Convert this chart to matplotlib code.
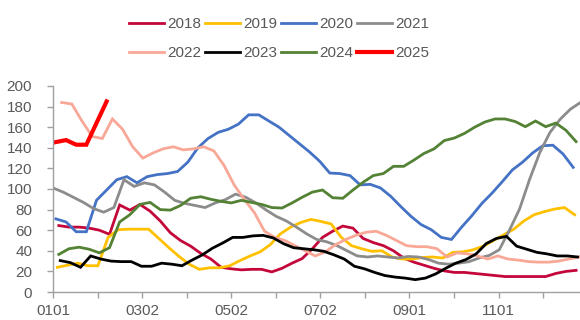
import matplotlib
matplotlib.use("Agg")
import matplotlib.pyplot as plt
import pandas as pd

plt.rcParams["font.family"] = ["Liberation Sans", "DejaVu Sans"]

# Weekly readings (Fridays), one list per year
years = ["2018", "2019", "2020", "2021", "2022", "2023", "2024", "2025"]
first_dates = {
    "2018": "2018-01-05", "2019": "2019-01-04", "2020": "2020-01-03",
    "2021": "2021-01-01", "2022": "2022-01-07", "2023": "2023-01-06",
    "2024": "2024-01-05",
}
dates_2025 = ["2025-01-01", "2025-01-10", "2025-01-17", "2025-01-24", "2025-02-07"]

v2018 = [64.5, 63, 63, 62, 60, 56, 84.5, 79.5, 85, 78.5, 69, 57.5, 50, 44.5, 37.5, 32,
         24, 22.5, 21.5, 22, 22, 19.5, 23, 28, 32.5, 42, 53, 59, 64, 62, 52, 48,
         45, 40, 33, 29, 26, 23, 20.5, 19, 19, 18, 17, 16, 15, 15, 15, 15, 15, 18, 20, 21]
v2019 = [24, 26, 28, 25.5, 25.5, 53, 60.5, 61, 61, 61, 52, 43, 34.5, 27, 22, 23.5,
         23.5, 25.5, 30.5, 35, 39, 46, 56.5, 63, 67.5, 70.5, 68.5, 66, 53, 45, 42, 39.5,
         40, 34, 32, 32, 33.5, 34, 33, 38.5, 39, 41, 44.5, 50, 55.5, 61, 69, 75, 78, 80.5, 82, 75]
v2020 = [71, 68, 58.5, 58.5, 89, 99, 109, 112, 106, 112, 114, 115, 117, 126, 140, 149,
         155, 158, 163, 172, 172, 166, 160, 152, 144, 136, 127, 115.5, 115, 113, 104, 104.5,
         101, 93, 83, 73.5, 65.5, 60.5, 53, 51, 63, 74, 86, 96, 107, 118.5, 126, 135, 142, 142.5, 134, 121]
v2021 = [101, 97, 92, 87, 81, 77.5, 82, 109, 102.5, 106, 104, 97, 89, 86, 84, 82,
         86.5, 89.7, 95, 92, 86.5, 79.7, 73.5, 69, 63, 56.5, 51, 48.7, 45, 40, 35, 34,
         35, 34, 33, 34.5, 34, 31.6, 28, 27, 28, 29.4, 33, 35.5, 41, 60, 80.6, 109.7, 135.5,
         155, 167.7, 177.4, 184]
v2022 = [184, 182.5, 166, 151, 149, 168, 158, 141, 130, 135, 139, 141, 138, 139, 141, 137,
         123, 104, 90, 77, 59, 53, 50, 45, 40, 35, 39, 46, 51, 55, 58, 59,
         55, 50, 45, 44, 44, 42, 34, 38, 37, 35, 32, 35, 32, 31, 29.5, 29, 29, 30, 32, 34]
v2023 = [30.5, 28.5, 24, 35, 32, 30, 29.5, 29.5, 25, 25, 28, 27, 25.5, 31, 36, 42.5,
         47.5, 53, 53, 54.5, 55, 52.5, 47, 43, 42, 41, 39.5, 36, 32, 25, 22.5, 19,
         16, 14.5, 13.5, 12, 13.5, 17.5, 23, 28, 31.5, 37, 47, 52, 54, 44.5, 41.5, 38.5, 37, 35, 35, 34]
v2024 = [36.5, 42, 43.5, 41.5, 38, 43, 68, 75, 85, 87, 80, 79.5, 84, 91, 92.5, 90,
         88, 86.5, 89, 87, 85, 82, 81.5, 86.5, 92, 97, 99, 91.5, 91, 99, 106.5, 113,
         115, 122, 122, 128, 134.5, 139, 147, 149.5, 154, 160, 165, 168, 168, 165.5, 160.5,
         166, 160.5, 164, 157, 146]
v2025 = [145, 147.5, 143, 143, 185]

values = {"2018": v2018, "2019": v2019, "2020": v2020, "2021": v2021,
          "2022": v2022, "2023": v2023, "2024": v2024, "2025": v2025}

colors = {"2018": "#C4073B", "2019": "#FFC000", "2020": "#4472C4", "2021": "#8C8C8C",
          "2022": "#F9A897", "2023": "#000000", "2024": "#548235", "2025": "#FF0000"}

tick_labels = ["0101", "0302", "0502", "0702", "0901", "1101"]


def day_of_year(dates):
    d = pd.to_datetime(pd.Series(dates))
    return (d - pd.to_datetime(d.dt.year.astype(str) + "-01-01")).dt.days.to_numpy()


fig = plt.figure(figsize=(5.8, 3.2), dpi=100)
ax = fig.add_axes([53 / 580, 28 / 320, 527 / 580, 206 / 320])

handles = {}
for y in years:
    vals = values[y]
    if y == "2025":
        x = day_of_year(dates_2025)
        lw = 3.0
    else:
        x = day_of_year(pd.date_range(first_dates[y], periods=len(vals), freq="7D"))
        lw = 2.0
    (ln,) = ax.plot(x, vals, color=colors[y], lw=lw, solid_joinstyle="miter", label=y)
    handles[y] = ln

day_step = 30.75
ax.set_xlim(0, 363.7)
ax.set_ylim(0, 200)
ax.set_yticks(range(0, 201, 20))
major = [i * 2 * day_step for i in range(len(tick_labels))]
ax.set_xticks(major)
ax.set_xticklabels(tick_labels)
ax.set_xticks([(2 * i + 1) * day_step for i in range(len(tick_labels))], minor=True)

axis_grey = "#A0A0A0"
text_grey = "#595959"
for side in ("top", "right"):
    ax.spines[side].set_visible(False)
for side in ("left", "bottom"):
    ax.spines[side].set_color(axis_grey)
    ax.spines[side].set_linewidth(1.0)
ax.tick_params(axis="both", which="both", direction="out", length=4, width=1.0,
               color=axis_grey, labelcolor=text_grey, labelsize=11)
ax.tick_params(axis="y", pad=11)
ax.tick_params(axis="x", pad=4.5)

order = ["2018", "2022", "2019", "2023", "2020", "2024", "2021", "2025"]
fig.legend([handles[k] for k in order], order, loc="center", ncol=4,
           bbox_to_anchor=(279 / 580, 1 - 38.5 / 320), frameon=False,
           fontsize=11, handlelength=2.3, handletextpad=0.2, columnspacing=0.25,
           labelspacing=1.0, labelcolor=text_grey)

fig.savefig("out.png", dpi=100)
